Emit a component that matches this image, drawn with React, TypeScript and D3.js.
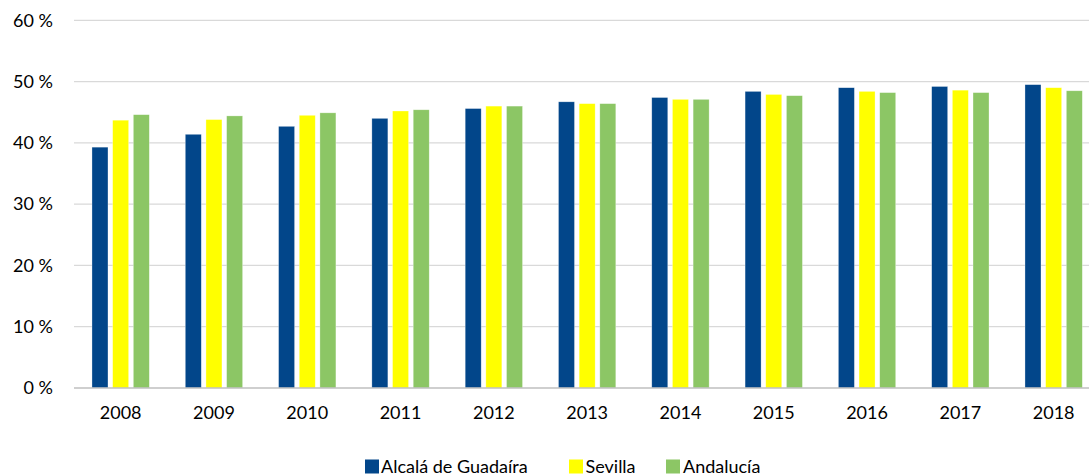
import React from 'react';
import * as d3 from 'd3';

const years = ['2008', '2009', '2010', '2011', '2012', '2013', '2014', '2015', '2016', '2017', '2018'];
const seriesNames = ['Alcalá de Guadaíra', 'Sevilla', 'Andalucía'];
const alcala = [39.3, 41.4, 42.7, 44.0, 45.6, 46.7, 47.4, 48.4, 49.0, 49.2, 49.5];
const sevilla = [43.7, 43.8, 44.5, 45.2, 46.0, 46.4, 47.1, 47.9, 48.4, 48.6, 49.0];
const andalucia = [44.6, 44.4, 44.9, 45.4, 46.0, 46.4, 47.1, 47.7, 48.2, 48.2, 48.5];
const yTicks = [0, 10, 20, 30, 40, 50, 60];

const colors = ['#02468a', '#ffff00', '#8cc665'];
const font = 'Lato, Carlito, "Open Sans", sans-serif';

const App = () => {
  const width = 1089;
  const height = 474;
  const values = [alcala, sevilla, andalucia];

  const x = d3.scaleBand().domain(years).range([74, 74 + 11 * 93.3]).padding(0);
  const inner = d3
    .scaleBand()
    .domain(seriesNames)
    .range([0, x.bandwidth()])
    .paddingInner(0.226)
    .paddingOuter(0.87);
  const y = d3.scaleLinear().domain([0, 60]).range([388, 20.3]);

  // legend entries: square x, text x
  const legend = [
    { sq: 365, tx: 381 },
    { sq: 569, tx: 585.5 },
    { sq: 666, tx: 683 }
  ];

  return (
    <svg
      width={width}
      height={height}
      style={{ position: 'fixed', top: 0, left: 0, display: 'block' }}
    >
      <rect width={width} height={height} fill="#fff" />
      {yTicks.map((t) => (
        <g key={t}>
          {t > 0 && (
            <line x1={74} x2={width} y1={y(t)} y2={y(t)} stroke="#d9d9d9" strokeWidth={1.3} />
          )}
          <text
            x={53}
            y={y(t)}
            dy="0.35em"
            textAnchor="end"
            fontFamily={font}
            fontSize={18}
            fill="#000"
          >
            {t} %
          </text>
        </g>
      ))}
      {values.map((vals, si) =>
        vals.map((v, i) => (
          <rect
            key={`${si}-${i}`}
            x={(x(years[i]) as number) + (inner(seriesNames[si]) as number)}
            y={y(v)}
            width={inner.bandwidth()}
            height={y(0) - y(v)}
            fill={colors[si]}
            stroke="#fff"
            strokeOpacity={0.5}
            strokeWidth={0.6}
          />
        ))
      )}
      <line x1={74} x2={width} y1={388} y2={388} stroke="#bfbfbf" strokeWidth={1.3} />
      {years.map((yr) => (
        <text
          key={yr}
          x={(x(yr) as number) + x.bandwidth() / 2}
          y={419}
          textAnchor="middle"
          fontFamily={font}
          fontSize={18}
          fill="#000"
        >
          {yr}
        </text>
      ))}
      {seriesNames.map((name, i) => (
        <g key={name}>
          <rect x={legend[i].sq} y={459.5} width={14} height={14} fill={colors[i]} />
          <text x={legend[i].tx} y={473} fontFamily={font} fontSize={18} fill="#000">
            {name}
          </text>
        </g>
      ))}
    </svg>
  );
};

export default App;
